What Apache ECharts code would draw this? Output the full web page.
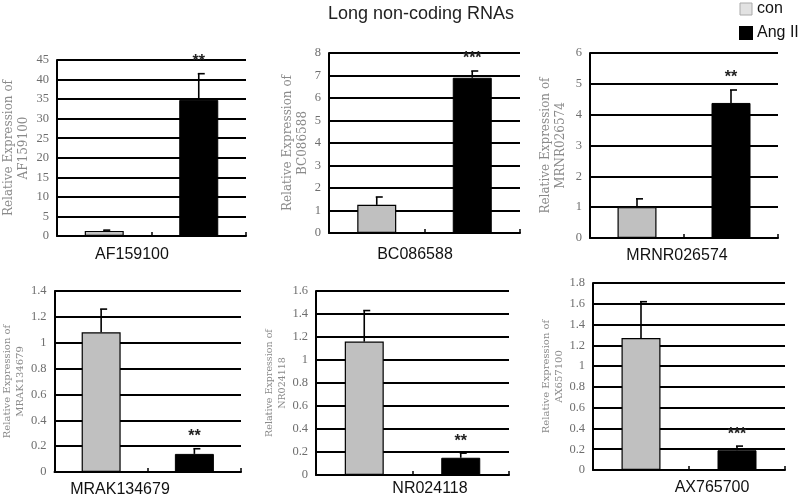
<!DOCTYPE html>
<html><head><meta charset="utf-8">
<script src="https://cdn.jsdelivr.net/npm/echarts@6/dist/echarts.min.js"></script>
<style>html,body{margin:0;padding:0;background:#fff}#c{width:800px;height:500px}</style>
</head><body><div id="c"></div>
<script>
const categories = ['con', 'Ang II'];
const genes = ['AF159100', 'BC086588', 'MRNR026574', 'MRAK134679', 'NR024118', 'AX765700'];
const axisGeneNames = ['AF159100', 'BC086588', 'MRNR026574', 'MRAK134679', 'NR024118', 'AX657100'];
const conMeans = [1.3, 1.25, 1.0, 1.08, 1.16, 1.27];
const conErrTops = [1.5, 1.6, 1.27, 1.26, 1.43, 1.62];
const angMeans = [34.8, 6.9, 4.38, 0.14, 0.15, 0.19];
const angErrTops = [41.5, 7.2, 4.8, 0.18, 0.19, 0.23];
const significance = ['**', '***', '**', '**', '**', '***'];
const yMaxes = [45, 8, 6, 1.4, 1.6, 1.8];
const yIntervals = [5, 1, 1, 0.2, 0.2, 0.2];
const titleText = 'Long non-coding RNAs';

const layout = [
  {left: 57, top: 60, width: 189, height: 176, gap: 26, nameSize: 12, label: [132, 255]},
  {left: 329, top: 53, width: 191, height: 180, gap: 18, nameSize: 12, label: [415, 255]},
  {left: 590, top: 53, width: 188, height: 185, gap: 22, nameSize: 12, label: [677, 256]},
  {left: 50, top: 291, width: 191, height: 181, gap: 23, nameSize: 10, label: [120, 490]},
  {left: 316, top: 291, width: 193, height: 184, gap: 25, nameSize: 9.5, label: [430, 489]},
  {left: 593, top: 283, width: 192, height: 187, gap: 25, nameSize: 10, label: [712, 488]}
];

const grids = [], xAxes = [], yAxes = [], series = [], graphics = [];
genes.forEach((g, k) => {
  const L = layout[k];
  grids.push({left: L.left, top: L.top, width: L.width, height: L.height, containLabel: false});
  xAxes.push({
    type: 'category', gridIndex: k, data: categories,
    axisLabel: {show: false},
    axisTick: {show: true, inside: true, length: 4, lineStyle: {color: '#000', width: 1.5}},
    axisLine: {lineStyle: {color: '#000', width: 2}},
    splitLine: {show: false}
  });
  yAxes.push({
    type: 'value', gridIndex: k, min: 0, max: yMaxes[k], interval: yIntervals[k],
    name: 'Relative Expression of\n' + axisGeneNames[k],
    nameLocation: 'middle', nameGap: L.gap, nameRotate: 90,
    nameTextStyle: {color: '#8a8a8a', fontFamily: 'DejaVu Serif', fontSize: L.nameSize, lineHeight: L.nameSize + 3},
    axisLine: {show: true, lineStyle: {color: '#000', width: 2}},
    axisTick: {show: false},
    axisLabel: {color: '#6e6e6e', fontFamily: 'Liberation Serif', fontSize: 12.5, margin: 8},
    splitLine: {show: true, lineStyle: {color: '#000', width: 2}}
  });
  series.push({
    name: 'con', type: 'bar', xAxisIndex: k, yAxisIndex: k, barWidth: 39, barGap: '-100%',
    data: [conMeans[k], '-'],
    itemStyle: {color: '#c0c0c0', borderColor: '#000', borderWidth: 1.2}, z: 3
  });
  series.push({
    name: 'Ang II', type: 'bar', xAxisIndex: k, yAxisIndex: k, barWidth: 39, barGap: '-100%',
    data: ['-', angMeans[k]],
    itemStyle: {color: '#000', borderColor: '#000', borderWidth: 1}, z: 3
  });
  series.push({
    type: 'custom', xAxisIndex: k, yAxisIndex: k, z: 4,
    data: [[0, conMeans[k], conErrTops[k]], [1, angMeans[k], angErrTops[k]]],
    encode: {x: 0, y: [1, 2]},
    renderItem: function (params, api) {
      const x = api.value(0), m = api.value(1), t = api.value(2);
      const p0 = api.coord([x, m]), p1 = api.coord([x, t]);
      const children = [
        {type: 'line', shape: {x1: p0[0], y1: p0[1], x2: p1[0], y2: p1[1]}, style: {stroke: '#000', lineWidth: 1.6}},
        {type: 'line', shape: {x1: p1[0] - 1, y1: p1[1], x2: p1[0] + 6, y2: p1[1]}, style: {stroke: '#000', lineWidth: 1.6}}
      ];
      if (params.dataIndex === 1) {
        children.push({type: 'text', style: {text: significance[k], x: p1[0], y: p1[1] - 12,
          textAlign: 'center', textVerticalAlign: 'middle', font: 'bold 16px "Liberation Sans", Arial', fill: '#222'}});
      }
      return {type: 'group', children: children};
    }
  });
  graphics.push({type: 'text', x: L.label[0], y: L.label[1],
    style: {text: g, font: '16px "Liberation Sans", Arial', fill: '#111', textAlign: 'center', textVerticalAlign: 'middle'}});
});
graphics.push({type: 'text', x: 421, y: 14,
  style: {text: titleText, font: '18px "Liberation Sans", Arial', fill: '#222', textAlign: 'center', textVerticalAlign: 'middle'}});

const chart = echarts.init(document.getElementById('c'), null, {renderer: 'canvas'});
chart.setOption({
  animation: false,
  backgroundColor: '#fff',
  legend: {
    orient: 'vertical', left: 734, top: -4, itemWidth: 12, itemHeight: 12, itemGap: 8,
    icon: 'rect',
    textStyle: {fontSize: 16, fontFamily: '"Liberation Sans", Arial', color: '#111'},
    data: [
      {name: 'con', itemStyle: {color: '#e2e2e2', borderColor: '#aaa', borderWidth: 1}},
      {name: 'Ang II', itemStyle: {color: '#000'}}
    ],
    selectedMode: false
  },
  grid: grids, xAxis: xAxes, yAxis: yAxes, series: series, graphic: graphics
});
</script></body></html>
